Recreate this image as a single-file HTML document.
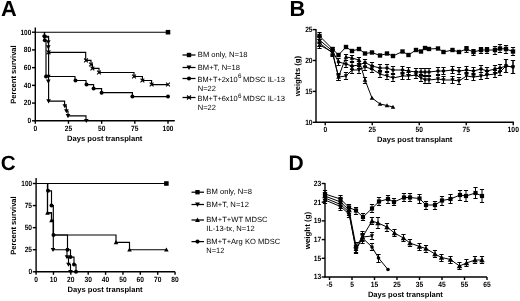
<!DOCTYPE html>
<html><head><meta charset="utf-8"><style>
html,body{margin:0;padding:0;background:#fff;}
svg{display:block;filter:grayscale(1);}
text{font-family:"Liberation Sans", sans-serif;text-rendering:geometricPrecision;}
</style></head><body>
<svg width="520" height="301" viewBox="0 0 520 301">
<rect width="520" height="301" fill="#fff"/>
<text x="1.00" y="15.90" font-size="21.8" font-weight="bold">A</text>
<text x="289.60" y="15.90" font-size="21.8" font-weight="bold">B</text>
<text x="0.70" y="170.30" font-size="20.6" font-weight="bold">C</text>
<text x="288.50" y="170.20" font-size="21.0" font-weight="bold">D</text>
<line x1="35.30" y1="27.50" x2="35.30" y2="121.30" stroke="#000" stroke-width="1.4"/>
<line x1="34.80" y1="120.80" x2="174.80" y2="120.80" stroke="#000" stroke-width="1.4"/>
<line x1="32.00" y1="120.80" x2="35.30" y2="120.80" stroke="#000" stroke-width="1.4"/>
<text x="31.30" y="123.20" font-size="7.6" font-weight="bold" text-anchor="end" textLength="3.72" lengthAdjust="spacingAndGlyphs">0</text>
<line x1="32.00" y1="103.08" x2="35.30" y2="103.08" stroke="#000" stroke-width="1.4"/>
<text x="31.30" y="105.48" font-size="7.6" font-weight="bold" text-anchor="end" textLength="7.44" lengthAdjust="spacingAndGlyphs">20</text>
<line x1="32.00" y1="85.36" x2="35.30" y2="85.36" stroke="#000" stroke-width="1.4"/>
<text x="31.30" y="87.76" font-size="7.6" font-weight="bold" text-anchor="end" textLength="7.44" lengthAdjust="spacingAndGlyphs">40</text>
<line x1="32.00" y1="67.64" x2="35.30" y2="67.64" stroke="#000" stroke-width="1.4"/>
<text x="31.30" y="70.04" font-size="7.6" font-weight="bold" text-anchor="end" textLength="7.44" lengthAdjust="spacingAndGlyphs">60</text>
<line x1="32.00" y1="49.92" x2="35.30" y2="49.92" stroke="#000" stroke-width="1.4"/>
<text x="31.30" y="52.32" font-size="7.6" font-weight="bold" text-anchor="end" textLength="7.44" lengthAdjust="spacingAndGlyphs">80</text>
<line x1="32.00" y1="32.20" x2="35.30" y2="32.20" stroke="#000" stroke-width="1.4"/>
<text x="31.30" y="34.60" font-size="7.6" font-weight="bold" text-anchor="end" textLength="10.78" lengthAdjust="spacingAndGlyphs">100</text>
<line x1="35.30" y1="120.80" x2="35.30" y2="123.80" stroke="#000" stroke-width="1.4"/>
<text x="35.30" y="130.80" font-size="7.6" font-weight="bold" text-anchor="middle" textLength="3.72" lengthAdjust="spacingAndGlyphs">0</text>
<line x1="68.47" y1="120.80" x2="68.47" y2="123.80" stroke="#000" stroke-width="1.4"/>
<text x="68.47" y="130.80" font-size="7.6" font-weight="bold" text-anchor="middle" textLength="7.44" lengthAdjust="spacingAndGlyphs">25</text>
<line x1="101.65" y1="120.80" x2="101.65" y2="123.80" stroke="#000" stroke-width="1.4"/>
<text x="101.65" y="130.80" font-size="7.6" font-weight="bold" text-anchor="middle" textLength="7.44" lengthAdjust="spacingAndGlyphs">50</text>
<line x1="134.82" y1="120.80" x2="134.82" y2="123.80" stroke="#000" stroke-width="1.4"/>
<text x="134.82" y="130.80" font-size="7.6" font-weight="bold" text-anchor="middle" textLength="7.44" lengthAdjust="spacingAndGlyphs">75</text>
<line x1="168.00" y1="120.80" x2="168.00" y2="123.80" stroke="#000" stroke-width="1.4"/>
<text x="168.00" y="130.80" font-size="7.6" font-weight="bold" text-anchor="middle" textLength="10.78" lengthAdjust="spacingAndGlyphs">100</text>
<text x="67.00" y="141.20" font-size="7.65" font-weight="bold" textLength="75.40" lengthAdjust="spacingAndGlyphs">Days post transplant</text>
<text x="16.40" y="103.80" font-size="7.65" font-weight="bold" textLength="58.50" lengthAdjust="spacingAndGlyphs" transform="rotate(-90 16.40 103.80)">Percent survival</text>
<polyline points="35.30,32.20 168.00,32.20" fill="none" stroke="#000" stroke-width="1.15" stroke-linejoin="miter"/>
<rect x="165.72" y="29.92" width="4.56" height="4.56" fill="#000"/>
<polyline points="44.50,32.20 44.50,36.23 48.50,36.23 48.50,52.34 85.70,52.34 85.70,60.39 91.00,60.39 91.00,64.45 92.40,64.45 92.40,68.44 99.00,68.44 99.00,72.51 134.00,72.51 134.00,76.50 142.40,76.50 142.40,80.53 151.60,80.53 151.60,84.56 168.00,84.56" fill="none" stroke="#000" stroke-width="1.15" stroke-linejoin="miter"/>
<path d="M46.60,50.44L50.40,54.24M50.40,50.44L46.60,54.24" stroke="#000" stroke-width="1.1"/>
<path d="M84.10,58.49L87.90,62.29M87.90,58.49L84.10,62.29" stroke="#000" stroke-width="1.1"/>
<path d="M89.10,62.55L92.90,66.35M92.90,62.55L89.10,66.35" stroke="#000" stroke-width="1.1"/>
<path d="M90.50,66.54L94.30,70.34M94.30,66.54L90.50,70.34" stroke="#000" stroke-width="1.1"/>
<path d="M97.10,70.61L100.90,74.41M100.90,70.61L97.10,74.41" stroke="#000" stroke-width="1.1"/>
<path d="M132.10,74.60L135.90,78.40M135.90,74.60L132.10,78.40" stroke="#000" stroke-width="1.1"/>
<path d="M140.50,78.63L144.30,82.43M144.30,78.63L140.50,82.43" stroke="#000" stroke-width="1.1"/>
<path d="M149.70,82.66L153.50,86.46M153.50,82.66L149.70,86.46" stroke="#000" stroke-width="1.1"/>
<path d="M166.10,82.66L169.90,86.46M169.90,82.66L166.10,86.46" stroke="#000" stroke-width="1.1"/>
<polyline points="44.50,32.20 44.50,40.26 46.00,40.26 46.00,76.50 75.00,76.50 75.00,80.53 86.00,80.53 86.00,84.56 93.60,84.56 93.60,88.55 101.60,88.55 101.60,92.63 132.40,92.63 132.40,96.61 168.00,96.61" fill="none" stroke="#000" stroke-width="1.15" stroke-linejoin="miter"/>
<circle cx="44.50" cy="36.23" r="2.00" fill="#000"/>
<circle cx="44.80" cy="40.26" r="2.00" fill="#000"/>
<circle cx="46.00" cy="76.50" r="2.00" fill="#000"/>
<circle cx="75.50" cy="80.53" r="2.00" fill="#000"/>
<circle cx="86.50" cy="84.56" r="2.00" fill="#000"/>
<circle cx="93.60" cy="88.55" r="2.00" fill="#000"/>
<circle cx="101.60" cy="92.63" r="2.00" fill="#000"/>
<circle cx="132.40" cy="96.61" r="2.00" fill="#000"/>
<circle cx="168.00" cy="96.61" r="2.00" fill="#000"/>
<polyline points="44.50,32.20 44.50,37.16 48.60,37.16 48.60,101.13 64.60,101.13 64.60,106.00 66.30,106.00 66.30,110.97 68.00,110.97 68.00,115.84 86.00,115.84 86.00,120.80" fill="none" stroke="#000" stroke-width="1.15" stroke-linejoin="miter"/>
<polygon points="42.20,35.32 46.80,35.32 44.50,39.46" fill="#000"/>
<polygon points="46.00,40.19 50.60,40.19 48.30,44.33" fill="#000"/>
<polygon points="46.00,45.16 50.60,45.16 48.30,49.30" fill="#000"/>
<polygon points="46.00,74.66 50.60,74.66 48.30,78.80" fill="#000"/>
<polygon points="46.00,79.62 50.60,79.62 48.30,83.76" fill="#000"/>
<polygon points="46.30,99.29 50.90,99.29 48.60,103.43" fill="#000"/>
<polygon points="62.50,104.16 67.10,104.16 64.80,108.30" fill="#000"/>
<polygon points="64.10,109.13 68.70,109.13 66.40,113.27" fill="#000"/>
<polygon points="65.70,114.00 70.30,114.00 68.00,118.14" fill="#000"/>
<polygon points="84.00,118.96 88.60,118.96 86.30,123.10" fill="#000"/>
<line x1="182.50" y1="55.00" x2="195.50" y2="55.00" stroke="#000" stroke-width="1.25"/>
<rect x="186.81" y="52.81" width="4.37" height="4.37" fill="#000"/>
<line x1="182.50" y1="67.50" x2="195.50" y2="67.50" stroke="#000" stroke-width="1.25"/>
<polygon points="186.59,65.57 191.41,65.57 189.00,69.92" fill="#000"/>
<line x1="182.50" y1="78.50" x2="195.50" y2="78.50" stroke="#000" stroke-width="1.25"/>
<circle cx="189.00" cy="78.50" r="2.10" fill="#000"/>
<line x1="182.50" y1="97.50" x2="195.50" y2="97.50" stroke="#000" stroke-width="1.25"/>
<path d="M187.00,95.50L191.00,99.50M191.00,95.50L187.00,99.50" stroke="#000" stroke-width="1.1"/>
<text x="197.80" y="57.40" font-size="7.5" textLength="49.60" lengthAdjust="spacingAndGlyphs">BM only, N=18</text>
<text x="197.80" y="69.90" font-size="7.5" textLength="42.20" lengthAdjust="spacingAndGlyphs">BM+T, N=18</text>
<text x="197.50" y="81.50" font-size="7.5" textLength="40.20" lengthAdjust="spacingAndGlyphs">BM+T+2x10</text>
<text x="238.00" y="78.40" font-size="6.3">6</text>
<text x="243.00" y="81.50" font-size="7.5" textLength="42.10" lengthAdjust="spacingAndGlyphs">MDSC IL-13</text>
<text x="197.80" y="90.50" font-size="7.5">N=22</text>
<text x="197.50" y="101.00" font-size="7.5" textLength="40.20" lengthAdjust="spacingAndGlyphs">BM+T+6x10</text>
<text x="238.00" y="97.90" font-size="6.3">6</text>
<text x="243.00" y="101.00" font-size="7.5" textLength="42.10" lengthAdjust="spacingAndGlyphs">MDSC IL-13</text>
<text x="197.80" y="109.50" font-size="7.5">N=22</text>
<line x1="316.00" y1="29.00" x2="316.00" y2="123.00" stroke="#000" stroke-width="1.4"/>
<line x1="315.50" y1="122.30" x2="513.90" y2="122.30" stroke="#000" stroke-width="1.4"/>
<line x1="312.70" y1="122.30" x2="316.00" y2="122.30" stroke="#000" stroke-width="1.4"/>
<text x="312.60" y="124.70" font-size="7.6" font-weight="bold" text-anchor="end" textLength="7.44" lengthAdjust="spacingAndGlyphs">10</text>
<line x1="312.70" y1="91.40" x2="316.00" y2="91.40" stroke="#000" stroke-width="1.4"/>
<text x="312.60" y="93.80" font-size="7.6" font-weight="bold" text-anchor="end" textLength="7.44" lengthAdjust="spacingAndGlyphs">15</text>
<line x1="312.70" y1="60.50" x2="316.00" y2="60.50" stroke="#000" stroke-width="1.4"/>
<text x="312.60" y="62.90" font-size="7.6" font-weight="bold" text-anchor="end" textLength="7.44" lengthAdjust="spacingAndGlyphs">20</text>
<line x1="312.70" y1="29.60" x2="316.00" y2="29.60" stroke="#000" stroke-width="1.4"/>
<text x="312.60" y="32.00" font-size="7.6" font-weight="bold" text-anchor="end" textLength="7.44" lengthAdjust="spacingAndGlyphs">25</text>
<line x1="325.25" y1="122.30" x2="325.25" y2="125.30" stroke="#000" stroke-width="1.4"/>
<text x="325.25" y="132.20" font-size="7.6" font-weight="bold" text-anchor="middle" textLength="3.72" lengthAdjust="spacingAndGlyphs">0</text>
<line x1="372.25" y1="122.30" x2="372.25" y2="125.30" stroke="#000" stroke-width="1.4"/>
<text x="372.25" y="132.20" font-size="7.6" font-weight="bold" text-anchor="middle" textLength="7.44" lengthAdjust="spacingAndGlyphs">25</text>
<line x1="419.25" y1="122.30" x2="419.25" y2="125.30" stroke="#000" stroke-width="1.4"/>
<text x="419.25" y="132.20" font-size="7.6" font-weight="bold" text-anchor="middle" textLength="7.44" lengthAdjust="spacingAndGlyphs">50</text>
<line x1="466.25" y1="122.30" x2="466.25" y2="125.30" stroke="#000" stroke-width="1.4"/>
<text x="466.25" y="132.20" font-size="7.6" font-weight="bold" text-anchor="middle" textLength="7.44" lengthAdjust="spacingAndGlyphs">75</text>
<line x1="513.25" y1="122.30" x2="513.25" y2="125.30" stroke="#000" stroke-width="1.4"/>
<text x="513.25" y="132.20" font-size="7.6" font-weight="bold" text-anchor="middle" textLength="11.40" lengthAdjust="spacingAndGlyphs">100</text>
<text x="377.00" y="142.40" font-size="7.65" font-weight="bold" textLength="75.40" lengthAdjust="spacingAndGlyphs">Days post transplant</text>
<text x="300.50" y="96.30" font-size="7.65" font-weight="bold" textLength="40.30" lengthAdjust="spacingAndGlyphs" transform="rotate(-90 300.50 96.30)">weights (g)</text>
<polyline points="319.50,36.00 332.50,49.00 338.50,55.00 346.00,47.00 352.00,51.00 359.00,49.00 365.00,53.50 372.00,52.50 380.00,55.50 387.00,53.50 393.00,56.00 402.50,51.50 408.50,55.00 416.00,50.00 421.00,51.50 425.00,48.00 429.00,49.00 438.00,48.50 443.50,52.00 452.50,50.00 459.00,52.00 466.50,49.00 473.50,52.00 481.00,50.00 487.00,50.00 495.00,50.00 500.00,48.50 506.00,49.00 513.00,51.50" fill="none" stroke="#000" stroke-width="1.0" stroke-linejoin="miter"/>
<line x1="319.50" y1="32.50" x2="319.50" y2="39.50" stroke="#000" stroke-width="1.0"/>
<line x1="317.40" y1="32.50" x2="321.60" y2="32.50" stroke="#000" stroke-width="1.0"/>
<line x1="317.40" y1="39.50" x2="321.60" y2="39.50" stroke="#000" stroke-width="1.0"/>
<rect x="317.31" y="33.81" width="4.37" height="4.37" fill="#000"/>
<rect x="330.31" y="46.81" width="4.37" height="4.37" fill="#000"/>
<rect x="336.31" y="52.81" width="4.37" height="4.37" fill="#000"/>
<rect x="343.81" y="44.81" width="4.37" height="4.37" fill="#000"/>
<rect x="349.81" y="48.81" width="4.37" height="4.37" fill="#000"/>
<rect x="356.81" y="46.81" width="4.37" height="4.37" fill="#000"/>
<rect x="362.81" y="51.31" width="4.37" height="4.37" fill="#000"/>
<rect x="369.81" y="50.31" width="4.37" height="4.37" fill="#000"/>
<rect x="377.81" y="53.31" width="4.37" height="4.37" fill="#000"/>
<rect x="384.81" y="51.31" width="4.37" height="4.37" fill="#000"/>
<rect x="390.81" y="53.81" width="4.37" height="4.37" fill="#000"/>
<rect x="400.31" y="49.31" width="4.37" height="4.37" fill="#000"/>
<rect x="406.31" y="52.81" width="4.37" height="4.37" fill="#000"/>
<rect x="413.81" y="47.81" width="4.37" height="4.37" fill="#000"/>
<rect x="418.81" y="49.31" width="4.37" height="4.37" fill="#000"/>
<rect x="422.81" y="45.81" width="4.37" height="4.37" fill="#000"/>
<rect x="426.81" y="46.81" width="4.37" height="4.37" fill="#000"/>
<rect x="435.81" y="46.31" width="4.37" height="4.37" fill="#000"/>
<rect x="441.31" y="49.81" width="4.37" height="4.37" fill="#000"/>
<rect x="450.31" y="47.81" width="4.37" height="4.37" fill="#000"/>
<rect x="456.81" y="49.81" width="4.37" height="4.37" fill="#000"/>
<line x1="466.50" y1="46.50" x2="466.50" y2="52.50" stroke="#000" stroke-width="1.0"/>
<line x1="464.40" y1="46.50" x2="468.60" y2="46.50" stroke="#000" stroke-width="1.0"/>
<line x1="464.40" y1="52.50" x2="468.60" y2="52.50" stroke="#000" stroke-width="1.0"/>
<rect x="464.31" y="46.81" width="4.37" height="4.37" fill="#000"/>
<line x1="473.50" y1="49.50" x2="473.50" y2="55.50" stroke="#000" stroke-width="1.0"/>
<line x1="471.40" y1="49.50" x2="475.60" y2="49.50" stroke="#000" stroke-width="1.0"/>
<line x1="471.40" y1="55.50" x2="475.60" y2="55.50" stroke="#000" stroke-width="1.0"/>
<rect x="471.31" y="49.81" width="4.37" height="4.37" fill="#000"/>
<line x1="481.00" y1="47.50" x2="481.00" y2="53.50" stroke="#000" stroke-width="1.0"/>
<line x1="478.90" y1="47.50" x2="483.10" y2="47.50" stroke="#000" stroke-width="1.0"/>
<line x1="478.90" y1="53.50" x2="483.10" y2="53.50" stroke="#000" stroke-width="1.0"/>
<rect x="478.81" y="47.81" width="4.37" height="4.37" fill="#000"/>
<line x1="487.00" y1="47.50" x2="487.00" y2="53.50" stroke="#000" stroke-width="1.0"/>
<line x1="484.90" y1="47.50" x2="489.10" y2="47.50" stroke="#000" stroke-width="1.0"/>
<line x1="484.90" y1="53.50" x2="489.10" y2="53.50" stroke="#000" stroke-width="1.0"/>
<rect x="484.81" y="47.81" width="4.37" height="4.37" fill="#000"/>
<line x1="495.00" y1="46.50" x2="495.00" y2="54.50" stroke="#000" stroke-width="1.0"/>
<line x1="492.90" y1="46.50" x2="497.10" y2="46.50" stroke="#000" stroke-width="1.0"/>
<line x1="492.90" y1="54.50" x2="497.10" y2="54.50" stroke="#000" stroke-width="1.0"/>
<rect x="492.81" y="47.81" width="4.37" height="4.37" fill="#000"/>
<line x1="500.00" y1="44.50" x2="500.00" y2="52.50" stroke="#000" stroke-width="1.0"/>
<line x1="497.90" y1="44.50" x2="502.10" y2="44.50" stroke="#000" stroke-width="1.0"/>
<line x1="497.90" y1="52.50" x2="502.10" y2="52.50" stroke="#000" stroke-width="1.0"/>
<rect x="497.81" y="46.31" width="4.37" height="4.37" fill="#000"/>
<line x1="506.00" y1="45.50" x2="506.00" y2="53.50" stroke="#000" stroke-width="1.0"/>
<line x1="503.90" y1="45.50" x2="508.10" y2="45.50" stroke="#000" stroke-width="1.0"/>
<line x1="503.90" y1="53.50" x2="508.10" y2="53.50" stroke="#000" stroke-width="1.0"/>
<rect x="503.81" y="46.81" width="4.37" height="4.37" fill="#000"/>
<line x1="513.00" y1="47.50" x2="513.00" y2="55.50" stroke="#000" stroke-width="1.0"/>
<line x1="510.90" y1="47.50" x2="515.10" y2="47.50" stroke="#000" stroke-width="1.0"/>
<line x1="510.90" y1="55.50" x2="515.10" y2="55.50" stroke="#000" stroke-width="1.0"/>
<rect x="510.81" y="49.31" width="4.37" height="4.37" fill="#000"/>
<polyline points="319.50,40.00 332.50,51.00 338.50,62.00 346.00,64.00 352.00,66.00 359.00,65.00 365.00,62.50 372.00,66.00 380.00,68.00 387.00,68.00 393.00,70.00 402.50,70.00 408.50,71.00 416.00,72.00 421.00,72.00 425.00,72.00 429.00,72.00 438.00,71.00 443.50,71.00 452.50,70.00 459.00,71.00 466.50,70.00 473.50,71.00 481.00,69.00 487.00,71.00 495.00,69.00 500.00,68.00 506.00,66.00 513.00,67.00" fill="none" stroke="#000" stroke-width="1.0" stroke-linejoin="miter"/>
<line x1="319.50" y1="36.50" x2="319.50" y2="43.50" stroke="#000" stroke-width="1.0"/>
<line x1="317.40" y1="36.50" x2="321.60" y2="36.50" stroke="#000" stroke-width="1.0"/>
<line x1="317.40" y1="43.50" x2="321.60" y2="43.50" stroke="#000" stroke-width="1.0"/>
<circle cx="319.50" cy="40.00" r="1.80" fill="#000"/>
<line x1="332.50" y1="47.50" x2="332.50" y2="54.50" stroke="#000" stroke-width="1.0"/>
<line x1="330.40" y1="47.50" x2="334.60" y2="47.50" stroke="#000" stroke-width="1.0"/>
<line x1="330.40" y1="54.50" x2="334.60" y2="54.50" stroke="#000" stroke-width="1.0"/>
<circle cx="332.50" cy="51.00" r="1.80" fill="#000"/>
<line x1="338.50" y1="58.50" x2="338.50" y2="65.50" stroke="#000" stroke-width="1.0"/>
<line x1="336.40" y1="58.50" x2="340.60" y2="58.50" stroke="#000" stroke-width="1.0"/>
<line x1="336.40" y1="65.50" x2="340.60" y2="65.50" stroke="#000" stroke-width="1.0"/>
<circle cx="338.50" cy="62.00" r="1.80" fill="#000"/>
<line x1="346.00" y1="60.50" x2="346.00" y2="67.50" stroke="#000" stroke-width="1.0"/>
<line x1="343.90" y1="60.50" x2="348.10" y2="60.50" stroke="#000" stroke-width="1.0"/>
<line x1="343.90" y1="67.50" x2="348.10" y2="67.50" stroke="#000" stroke-width="1.0"/>
<circle cx="346.00" cy="64.00" r="1.80" fill="#000"/>
<line x1="352.00" y1="62.50" x2="352.00" y2="69.50" stroke="#000" stroke-width="1.0"/>
<line x1="349.90" y1="62.50" x2="354.10" y2="62.50" stroke="#000" stroke-width="1.0"/>
<line x1="349.90" y1="69.50" x2="354.10" y2="69.50" stroke="#000" stroke-width="1.0"/>
<circle cx="352.00" cy="66.00" r="1.80" fill="#000"/>
<line x1="359.00" y1="61.50" x2="359.00" y2="68.50" stroke="#000" stroke-width="1.0"/>
<line x1="356.90" y1="61.50" x2="361.10" y2="61.50" stroke="#000" stroke-width="1.0"/>
<line x1="356.90" y1="68.50" x2="361.10" y2="68.50" stroke="#000" stroke-width="1.0"/>
<circle cx="359.00" cy="65.00" r="1.80" fill="#000"/>
<line x1="365.00" y1="59.50" x2="365.00" y2="66.50" stroke="#000" stroke-width="1.0"/>
<line x1="362.90" y1="59.50" x2="367.10" y2="59.50" stroke="#000" stroke-width="1.0"/>
<line x1="362.90" y1="66.50" x2="367.10" y2="66.50" stroke="#000" stroke-width="1.0"/>
<circle cx="365.00" cy="62.50" r="1.80" fill="#000"/>
<line x1="372.00" y1="62.50" x2="372.00" y2="69.50" stroke="#000" stroke-width="1.0"/>
<line x1="369.90" y1="62.50" x2="374.10" y2="62.50" stroke="#000" stroke-width="1.0"/>
<line x1="369.90" y1="69.50" x2="374.10" y2="69.50" stroke="#000" stroke-width="1.0"/>
<circle cx="372.00" cy="66.00" r="1.80" fill="#000"/>
<line x1="380.00" y1="64.50" x2="380.00" y2="71.50" stroke="#000" stroke-width="1.0"/>
<line x1="377.90" y1="64.50" x2="382.10" y2="64.50" stroke="#000" stroke-width="1.0"/>
<line x1="377.90" y1="71.50" x2="382.10" y2="71.50" stroke="#000" stroke-width="1.0"/>
<circle cx="380.00" cy="68.00" r="1.80" fill="#000"/>
<line x1="387.00" y1="64.50" x2="387.00" y2="71.50" stroke="#000" stroke-width="1.0"/>
<line x1="384.90" y1="64.50" x2="389.10" y2="64.50" stroke="#000" stroke-width="1.0"/>
<line x1="384.90" y1="71.50" x2="389.10" y2="71.50" stroke="#000" stroke-width="1.0"/>
<circle cx="387.00" cy="68.00" r="1.80" fill="#000"/>
<line x1="393.00" y1="66.50" x2="393.00" y2="73.50" stroke="#000" stroke-width="1.0"/>
<line x1="390.90" y1="66.50" x2="395.10" y2="66.50" stroke="#000" stroke-width="1.0"/>
<line x1="390.90" y1="73.50" x2="395.10" y2="73.50" stroke="#000" stroke-width="1.0"/>
<circle cx="393.00" cy="70.00" r="1.80" fill="#000"/>
<line x1="402.50" y1="66.50" x2="402.50" y2="73.50" stroke="#000" stroke-width="1.0"/>
<line x1="400.40" y1="66.50" x2="404.60" y2="66.50" stroke="#000" stroke-width="1.0"/>
<line x1="400.40" y1="73.50" x2="404.60" y2="73.50" stroke="#000" stroke-width="1.0"/>
<circle cx="402.50" cy="70.00" r="1.80" fill="#000"/>
<line x1="408.50" y1="67.50" x2="408.50" y2="74.50" stroke="#000" stroke-width="1.0"/>
<line x1="406.40" y1="67.50" x2="410.60" y2="67.50" stroke="#000" stroke-width="1.0"/>
<line x1="406.40" y1="74.50" x2="410.60" y2="74.50" stroke="#000" stroke-width="1.0"/>
<circle cx="408.50" cy="71.00" r="1.80" fill="#000"/>
<line x1="416.00" y1="68.50" x2="416.00" y2="75.50" stroke="#000" stroke-width="1.0"/>
<line x1="413.90" y1="68.50" x2="418.10" y2="68.50" stroke="#000" stroke-width="1.0"/>
<line x1="413.90" y1="75.50" x2="418.10" y2="75.50" stroke="#000" stroke-width="1.0"/>
<circle cx="416.00" cy="72.00" r="1.80" fill="#000"/>
<line x1="421.00" y1="68.50" x2="421.00" y2="75.50" stroke="#000" stroke-width="1.0"/>
<line x1="418.90" y1="68.50" x2="423.10" y2="68.50" stroke="#000" stroke-width="1.0"/>
<line x1="418.90" y1="75.50" x2="423.10" y2="75.50" stroke="#000" stroke-width="1.0"/>
<circle cx="421.00" cy="72.00" r="1.80" fill="#000"/>
<line x1="425.00" y1="68.50" x2="425.00" y2="75.50" stroke="#000" stroke-width="1.0"/>
<line x1="422.90" y1="68.50" x2="427.10" y2="68.50" stroke="#000" stroke-width="1.0"/>
<line x1="422.90" y1="75.50" x2="427.10" y2="75.50" stroke="#000" stroke-width="1.0"/>
<circle cx="425.00" cy="72.00" r="1.80" fill="#000"/>
<line x1="429.00" y1="68.50" x2="429.00" y2="75.50" stroke="#000" stroke-width="1.0"/>
<line x1="426.90" y1="68.50" x2="431.10" y2="68.50" stroke="#000" stroke-width="1.0"/>
<line x1="426.90" y1="75.50" x2="431.10" y2="75.50" stroke="#000" stroke-width="1.0"/>
<circle cx="429.00" cy="72.00" r="1.80" fill="#000"/>
<line x1="438.00" y1="67.50" x2="438.00" y2="74.50" stroke="#000" stroke-width="1.0"/>
<line x1="435.90" y1="67.50" x2="440.10" y2="67.50" stroke="#000" stroke-width="1.0"/>
<line x1="435.90" y1="74.50" x2="440.10" y2="74.50" stroke="#000" stroke-width="1.0"/>
<circle cx="438.00" cy="71.00" r="1.80" fill="#000"/>
<line x1="443.50" y1="67.50" x2="443.50" y2="74.50" stroke="#000" stroke-width="1.0"/>
<line x1="441.40" y1="67.50" x2="445.60" y2="67.50" stroke="#000" stroke-width="1.0"/>
<line x1="441.40" y1="74.50" x2="445.60" y2="74.50" stroke="#000" stroke-width="1.0"/>
<circle cx="443.50" cy="71.00" r="1.80" fill="#000"/>
<line x1="452.50" y1="66.50" x2="452.50" y2="73.50" stroke="#000" stroke-width="1.0"/>
<line x1="450.40" y1="66.50" x2="454.60" y2="66.50" stroke="#000" stroke-width="1.0"/>
<line x1="450.40" y1="73.50" x2="454.60" y2="73.50" stroke="#000" stroke-width="1.0"/>
<circle cx="452.50" cy="70.00" r="1.80" fill="#000"/>
<line x1="459.00" y1="67.50" x2="459.00" y2="74.50" stroke="#000" stroke-width="1.0"/>
<line x1="456.90" y1="67.50" x2="461.10" y2="67.50" stroke="#000" stroke-width="1.0"/>
<line x1="456.90" y1="74.50" x2="461.10" y2="74.50" stroke="#000" stroke-width="1.0"/>
<circle cx="459.00" cy="71.00" r="1.80" fill="#000"/>
<line x1="466.50" y1="66.50" x2="466.50" y2="73.50" stroke="#000" stroke-width="1.0"/>
<line x1="464.40" y1="66.50" x2="468.60" y2="66.50" stroke="#000" stroke-width="1.0"/>
<line x1="464.40" y1="73.50" x2="468.60" y2="73.50" stroke="#000" stroke-width="1.0"/>
<circle cx="466.50" cy="70.00" r="1.80" fill="#000"/>
<line x1="473.50" y1="67.50" x2="473.50" y2="74.50" stroke="#000" stroke-width="1.0"/>
<line x1="471.40" y1="67.50" x2="475.60" y2="67.50" stroke="#000" stroke-width="1.0"/>
<line x1="471.40" y1="74.50" x2="475.60" y2="74.50" stroke="#000" stroke-width="1.0"/>
<circle cx="473.50" cy="71.00" r="1.80" fill="#000"/>
<line x1="481.00" y1="65.50" x2="481.00" y2="72.50" stroke="#000" stroke-width="1.0"/>
<line x1="478.90" y1="65.50" x2="483.10" y2="65.50" stroke="#000" stroke-width="1.0"/>
<line x1="478.90" y1="72.50" x2="483.10" y2="72.50" stroke="#000" stroke-width="1.0"/>
<circle cx="481.00" cy="69.00" r="1.80" fill="#000"/>
<line x1="487.00" y1="67.50" x2="487.00" y2="74.50" stroke="#000" stroke-width="1.0"/>
<line x1="484.90" y1="67.50" x2="489.10" y2="67.50" stroke="#000" stroke-width="1.0"/>
<line x1="484.90" y1="74.50" x2="489.10" y2="74.50" stroke="#000" stroke-width="1.0"/>
<circle cx="487.00" cy="71.00" r="1.80" fill="#000"/>
<line x1="495.00" y1="65.50" x2="495.00" y2="72.50" stroke="#000" stroke-width="1.0"/>
<line x1="492.90" y1="65.50" x2="497.10" y2="65.50" stroke="#000" stroke-width="1.0"/>
<line x1="492.90" y1="72.50" x2="497.10" y2="72.50" stroke="#000" stroke-width="1.0"/>
<circle cx="495.00" cy="69.00" r="1.80" fill="#000"/>
<line x1="500.00" y1="64.50" x2="500.00" y2="71.50" stroke="#000" stroke-width="1.0"/>
<line x1="497.90" y1="64.50" x2="502.10" y2="64.50" stroke="#000" stroke-width="1.0"/>
<line x1="497.90" y1="71.50" x2="502.10" y2="71.50" stroke="#000" stroke-width="1.0"/>
<circle cx="500.00" cy="68.00" r="1.80" fill="#000"/>
<line x1="506.00" y1="59.50" x2="506.00" y2="72.50" stroke="#000" stroke-width="1.0"/>
<line x1="503.90" y1="59.50" x2="508.10" y2="59.50" stroke="#000" stroke-width="1.0"/>
<line x1="503.90" y1="72.50" x2="508.10" y2="72.50" stroke="#000" stroke-width="1.0"/>
<circle cx="506.00" cy="66.00" r="1.80" fill="#000"/>
<line x1="513.00" y1="60.50" x2="513.00" y2="73.50" stroke="#000" stroke-width="1.0"/>
<line x1="510.90" y1="60.50" x2="515.10" y2="60.50" stroke="#000" stroke-width="1.0"/>
<line x1="510.90" y1="73.50" x2="515.10" y2="73.50" stroke="#000" stroke-width="1.0"/>
<circle cx="513.00" cy="67.00" r="1.80" fill="#000"/>
<polyline points="319.50,43.00 332.50,53.00 338.50,77.00 346.00,76.00 352.00,70.00 359.00,70.00 365.00,67.00 372.00,69.00 380.00,74.00 387.00,76.00 393.00,78.00 402.50,76.00 408.50,76.00 416.00,75.00 421.00,78.00 425.00,80.00 429.00,80.00 438.00,79.00 443.50,80.00 452.50,80.00 459.00,81.00 466.50,76.00 473.50,77.00 481.00,76.00 487.00,75.00 495.00,74.00 500.00,72.00 506.00,66.00 513.00,67.00" fill="none" stroke="#000" stroke-width="1.0" stroke-linejoin="miter"/>
<line x1="319.50" y1="39.50" x2="319.50" y2="46.50" stroke="#000" stroke-width="1.0"/>
<line x1="317.40" y1="39.50" x2="321.60" y2="39.50" stroke="#000" stroke-width="1.0"/>
<line x1="317.40" y1="46.50" x2="321.60" y2="46.50" stroke="#000" stroke-width="1.0"/>
<polygon points="317.43,41.34 321.57,41.34 319.50,45.07" fill="#000"/>
<line x1="332.50" y1="49.50" x2="332.50" y2="56.50" stroke="#000" stroke-width="1.0"/>
<line x1="330.40" y1="49.50" x2="334.60" y2="49.50" stroke="#000" stroke-width="1.0"/>
<line x1="330.40" y1="56.50" x2="334.60" y2="56.50" stroke="#000" stroke-width="1.0"/>
<polygon points="330.43,51.34 334.57,51.34 332.50,55.07" fill="#000"/>
<line x1="338.50" y1="73.50" x2="338.50" y2="80.50" stroke="#000" stroke-width="1.0"/>
<line x1="336.40" y1="73.50" x2="340.60" y2="73.50" stroke="#000" stroke-width="1.0"/>
<line x1="336.40" y1="80.50" x2="340.60" y2="80.50" stroke="#000" stroke-width="1.0"/>
<polygon points="336.43,75.34 340.57,75.34 338.50,79.07" fill="#000"/>
<line x1="346.00" y1="72.50" x2="346.00" y2="79.50" stroke="#000" stroke-width="1.0"/>
<line x1="343.90" y1="72.50" x2="348.10" y2="72.50" stroke="#000" stroke-width="1.0"/>
<line x1="343.90" y1="79.50" x2="348.10" y2="79.50" stroke="#000" stroke-width="1.0"/>
<polygon points="343.93,74.34 348.07,74.34 346.00,78.07" fill="#000"/>
<line x1="352.00" y1="66.50" x2="352.00" y2="73.50" stroke="#000" stroke-width="1.0"/>
<line x1="349.90" y1="66.50" x2="354.10" y2="66.50" stroke="#000" stroke-width="1.0"/>
<line x1="349.90" y1="73.50" x2="354.10" y2="73.50" stroke="#000" stroke-width="1.0"/>
<polygon points="349.93,68.34 354.07,68.34 352.00,72.07" fill="#000"/>
<line x1="359.00" y1="66.50" x2="359.00" y2="73.50" stroke="#000" stroke-width="1.0"/>
<line x1="356.90" y1="66.50" x2="361.10" y2="66.50" stroke="#000" stroke-width="1.0"/>
<line x1="356.90" y1="73.50" x2="361.10" y2="73.50" stroke="#000" stroke-width="1.0"/>
<polygon points="356.93,68.34 361.07,68.34 359.00,72.07" fill="#000"/>
<line x1="365.00" y1="63.50" x2="365.00" y2="70.50" stroke="#000" stroke-width="1.0"/>
<line x1="362.90" y1="63.50" x2="367.10" y2="63.50" stroke="#000" stroke-width="1.0"/>
<line x1="362.90" y1="70.50" x2="367.10" y2="70.50" stroke="#000" stroke-width="1.0"/>
<polygon points="362.93,65.34 367.07,65.34 365.00,69.07" fill="#000"/>
<line x1="372.00" y1="65.50" x2="372.00" y2="72.50" stroke="#000" stroke-width="1.0"/>
<line x1="369.90" y1="65.50" x2="374.10" y2="65.50" stroke="#000" stroke-width="1.0"/>
<line x1="369.90" y1="72.50" x2="374.10" y2="72.50" stroke="#000" stroke-width="1.0"/>
<polygon points="369.93,67.34 374.07,67.34 372.00,71.07" fill="#000"/>
<line x1="380.00" y1="70.50" x2="380.00" y2="77.50" stroke="#000" stroke-width="1.0"/>
<line x1="377.90" y1="70.50" x2="382.10" y2="70.50" stroke="#000" stroke-width="1.0"/>
<line x1="377.90" y1="77.50" x2="382.10" y2="77.50" stroke="#000" stroke-width="1.0"/>
<polygon points="377.93,72.34 382.07,72.34 380.00,76.07" fill="#000"/>
<line x1="387.00" y1="72.50" x2="387.00" y2="79.50" stroke="#000" stroke-width="1.0"/>
<line x1="384.90" y1="72.50" x2="389.10" y2="72.50" stroke="#000" stroke-width="1.0"/>
<line x1="384.90" y1="79.50" x2="389.10" y2="79.50" stroke="#000" stroke-width="1.0"/>
<polygon points="384.93,74.34 389.07,74.34 387.00,78.07" fill="#000"/>
<line x1="393.00" y1="74.50" x2="393.00" y2="81.50" stroke="#000" stroke-width="1.0"/>
<line x1="390.90" y1="74.50" x2="395.10" y2="74.50" stroke="#000" stroke-width="1.0"/>
<line x1="390.90" y1="81.50" x2="395.10" y2="81.50" stroke="#000" stroke-width="1.0"/>
<polygon points="390.93,76.34 395.07,76.34 393.00,80.07" fill="#000"/>
<line x1="402.50" y1="72.50" x2="402.50" y2="79.50" stroke="#000" stroke-width="1.0"/>
<line x1="400.40" y1="72.50" x2="404.60" y2="72.50" stroke="#000" stroke-width="1.0"/>
<line x1="400.40" y1="79.50" x2="404.60" y2="79.50" stroke="#000" stroke-width="1.0"/>
<polygon points="400.43,74.34 404.57,74.34 402.50,78.07" fill="#000"/>
<line x1="408.50" y1="72.50" x2="408.50" y2="79.50" stroke="#000" stroke-width="1.0"/>
<line x1="406.40" y1="72.50" x2="410.60" y2="72.50" stroke="#000" stroke-width="1.0"/>
<line x1="406.40" y1="79.50" x2="410.60" y2="79.50" stroke="#000" stroke-width="1.0"/>
<polygon points="406.43,74.34 410.57,74.34 408.50,78.07" fill="#000"/>
<line x1="416.00" y1="71.50" x2="416.00" y2="78.50" stroke="#000" stroke-width="1.0"/>
<line x1="413.90" y1="71.50" x2="418.10" y2="71.50" stroke="#000" stroke-width="1.0"/>
<line x1="413.90" y1="78.50" x2="418.10" y2="78.50" stroke="#000" stroke-width="1.0"/>
<polygon points="413.93,73.34 418.07,73.34 416.00,77.07" fill="#000"/>
<line x1="421.00" y1="74.50" x2="421.00" y2="81.50" stroke="#000" stroke-width="1.0"/>
<line x1="418.90" y1="74.50" x2="423.10" y2="74.50" stroke="#000" stroke-width="1.0"/>
<line x1="418.90" y1="81.50" x2="423.10" y2="81.50" stroke="#000" stroke-width="1.0"/>
<polygon points="418.93,76.34 423.07,76.34 421.00,80.07" fill="#000"/>
<line x1="425.00" y1="76.50" x2="425.00" y2="83.50" stroke="#000" stroke-width="1.0"/>
<line x1="422.90" y1="76.50" x2="427.10" y2="76.50" stroke="#000" stroke-width="1.0"/>
<line x1="422.90" y1="83.50" x2="427.10" y2="83.50" stroke="#000" stroke-width="1.0"/>
<polygon points="422.93,78.34 427.07,78.34 425.00,82.07" fill="#000"/>
<line x1="429.00" y1="76.50" x2="429.00" y2="83.50" stroke="#000" stroke-width="1.0"/>
<line x1="426.90" y1="76.50" x2="431.10" y2="76.50" stroke="#000" stroke-width="1.0"/>
<line x1="426.90" y1="83.50" x2="431.10" y2="83.50" stroke="#000" stroke-width="1.0"/>
<polygon points="426.93,78.34 431.07,78.34 429.00,82.07" fill="#000"/>
<line x1="438.00" y1="75.50" x2="438.00" y2="82.50" stroke="#000" stroke-width="1.0"/>
<line x1="435.90" y1="75.50" x2="440.10" y2="75.50" stroke="#000" stroke-width="1.0"/>
<line x1="435.90" y1="82.50" x2="440.10" y2="82.50" stroke="#000" stroke-width="1.0"/>
<polygon points="435.93,77.34 440.07,77.34 438.00,81.07" fill="#000"/>
<line x1="443.50" y1="76.50" x2="443.50" y2="83.50" stroke="#000" stroke-width="1.0"/>
<line x1="441.40" y1="76.50" x2="445.60" y2="76.50" stroke="#000" stroke-width="1.0"/>
<line x1="441.40" y1="83.50" x2="445.60" y2="83.50" stroke="#000" stroke-width="1.0"/>
<polygon points="441.43,78.34 445.57,78.34 443.50,82.07" fill="#000"/>
<line x1="452.50" y1="76.50" x2="452.50" y2="83.50" stroke="#000" stroke-width="1.0"/>
<line x1="450.40" y1="76.50" x2="454.60" y2="76.50" stroke="#000" stroke-width="1.0"/>
<line x1="450.40" y1="83.50" x2="454.60" y2="83.50" stroke="#000" stroke-width="1.0"/>
<polygon points="450.43,78.34 454.57,78.34 452.50,82.07" fill="#000"/>
<line x1="459.00" y1="77.50" x2="459.00" y2="84.50" stroke="#000" stroke-width="1.0"/>
<line x1="456.90" y1="77.50" x2="461.10" y2="77.50" stroke="#000" stroke-width="1.0"/>
<line x1="456.90" y1="84.50" x2="461.10" y2="84.50" stroke="#000" stroke-width="1.0"/>
<polygon points="456.93,79.34 461.07,79.34 459.00,83.07" fill="#000"/>
<line x1="466.50" y1="72.50" x2="466.50" y2="79.50" stroke="#000" stroke-width="1.0"/>
<line x1="464.40" y1="72.50" x2="468.60" y2="72.50" stroke="#000" stroke-width="1.0"/>
<line x1="464.40" y1="79.50" x2="468.60" y2="79.50" stroke="#000" stroke-width="1.0"/>
<polygon points="464.43,74.34 468.57,74.34 466.50,78.07" fill="#000"/>
<line x1="473.50" y1="73.50" x2="473.50" y2="80.50" stroke="#000" stroke-width="1.0"/>
<line x1="471.40" y1="73.50" x2="475.60" y2="73.50" stroke="#000" stroke-width="1.0"/>
<line x1="471.40" y1="80.50" x2="475.60" y2="80.50" stroke="#000" stroke-width="1.0"/>
<polygon points="471.43,75.34 475.57,75.34 473.50,79.07" fill="#000"/>
<line x1="481.00" y1="72.50" x2="481.00" y2="79.50" stroke="#000" stroke-width="1.0"/>
<line x1="478.90" y1="72.50" x2="483.10" y2="72.50" stroke="#000" stroke-width="1.0"/>
<line x1="478.90" y1="79.50" x2="483.10" y2="79.50" stroke="#000" stroke-width="1.0"/>
<polygon points="478.93,74.34 483.07,74.34 481.00,78.07" fill="#000"/>
<line x1="487.00" y1="71.50" x2="487.00" y2="78.50" stroke="#000" stroke-width="1.0"/>
<line x1="484.90" y1="71.50" x2="489.10" y2="71.50" stroke="#000" stroke-width="1.0"/>
<line x1="484.90" y1="78.50" x2="489.10" y2="78.50" stroke="#000" stroke-width="1.0"/>
<polygon points="484.93,73.34 489.07,73.34 487.00,77.07" fill="#000"/>
<line x1="495.00" y1="70.50" x2="495.00" y2="77.50" stroke="#000" stroke-width="1.0"/>
<line x1="492.90" y1="70.50" x2="497.10" y2="70.50" stroke="#000" stroke-width="1.0"/>
<line x1="492.90" y1="77.50" x2="497.10" y2="77.50" stroke="#000" stroke-width="1.0"/>
<polygon points="492.93,72.34 497.07,72.34 495.00,76.07" fill="#000"/>
<line x1="500.00" y1="68.50" x2="500.00" y2="75.50" stroke="#000" stroke-width="1.0"/>
<line x1="497.90" y1="68.50" x2="502.10" y2="68.50" stroke="#000" stroke-width="1.0"/>
<line x1="497.90" y1="75.50" x2="502.10" y2="75.50" stroke="#000" stroke-width="1.0"/>
<polygon points="497.93,70.34 502.07,70.34 500.00,74.07" fill="#000"/>
<line x1="506.00" y1="59.50" x2="506.00" y2="72.50" stroke="#000" stroke-width="1.0"/>
<line x1="503.90" y1="59.50" x2="508.10" y2="59.50" stroke="#000" stroke-width="1.0"/>
<line x1="503.90" y1="72.50" x2="508.10" y2="72.50" stroke="#000" stroke-width="1.0"/>
<polygon points="503.93,64.34 508.07,64.34 506.00,68.07" fill="#000"/>
<line x1="513.00" y1="60.50" x2="513.00" y2="73.50" stroke="#000" stroke-width="1.0"/>
<line x1="510.90" y1="60.50" x2="515.10" y2="60.50" stroke="#000" stroke-width="1.0"/>
<line x1="510.90" y1="73.50" x2="515.10" y2="73.50" stroke="#000" stroke-width="1.0"/>
<polygon points="510.93,65.34 515.07,65.34 513.00,69.07" fill="#000"/>
<polyline points="319.50,45.00 332.50,52.00 338.50,77.00 346.00,57.00 352.00,58.00 359.00,60.00 365.00,80.00 372.00,98.00 380.00,104.00 387.00,105.50 393.00,107.00" fill="none" stroke="#000" stroke-width="1.0" stroke-linejoin="miter"/>
<line x1="319.50" y1="42.50" x2="319.50" y2="48.50" stroke="#000" stroke-width="1.0"/>
<line x1="317.40" y1="42.50" x2="321.60" y2="42.50" stroke="#000" stroke-width="1.0"/>
<line x1="317.40" y1="48.50" x2="321.60" y2="48.50" stroke="#000" stroke-width="1.0"/>
<polygon points="317.20,46.84 321.80,46.84 319.50,42.70" fill="#000"/>
<line x1="332.50" y1="49.50" x2="332.50" y2="55.50" stroke="#000" stroke-width="1.0"/>
<line x1="330.40" y1="49.50" x2="334.60" y2="49.50" stroke="#000" stroke-width="1.0"/>
<line x1="330.40" y1="55.50" x2="334.60" y2="55.50" stroke="#000" stroke-width="1.0"/>
<polygon points="330.20,53.84 334.80,53.84 332.50,49.70" fill="#000"/>
<line x1="338.50" y1="74.50" x2="338.50" y2="80.50" stroke="#000" stroke-width="1.0"/>
<line x1="336.40" y1="74.50" x2="340.60" y2="74.50" stroke="#000" stroke-width="1.0"/>
<line x1="336.40" y1="80.50" x2="340.60" y2="80.50" stroke="#000" stroke-width="1.0"/>
<polygon points="336.20,78.84 340.80,78.84 338.50,74.70" fill="#000"/>
<line x1="346.00" y1="54.50" x2="346.00" y2="60.50" stroke="#000" stroke-width="1.0"/>
<line x1="343.90" y1="54.50" x2="348.10" y2="54.50" stroke="#000" stroke-width="1.0"/>
<line x1="343.90" y1="60.50" x2="348.10" y2="60.50" stroke="#000" stroke-width="1.0"/>
<polygon points="343.70,58.84 348.30,58.84 346.00,54.70" fill="#000"/>
<line x1="352.00" y1="55.50" x2="352.00" y2="61.50" stroke="#000" stroke-width="1.0"/>
<line x1="349.90" y1="55.50" x2="354.10" y2="55.50" stroke="#000" stroke-width="1.0"/>
<line x1="349.90" y1="61.50" x2="354.10" y2="61.50" stroke="#000" stroke-width="1.0"/>
<polygon points="349.70,59.84 354.30,59.84 352.00,55.70" fill="#000"/>
<line x1="359.00" y1="57.50" x2="359.00" y2="63.50" stroke="#000" stroke-width="1.0"/>
<line x1="356.90" y1="57.50" x2="361.10" y2="57.50" stroke="#000" stroke-width="1.0"/>
<line x1="356.90" y1="63.50" x2="361.10" y2="63.50" stroke="#000" stroke-width="1.0"/>
<polygon points="356.70,61.84 361.30,61.84 359.00,57.70" fill="#000"/>
<line x1="365.00" y1="77.50" x2="365.00" y2="83.50" stroke="#000" stroke-width="1.0"/>
<line x1="362.90" y1="77.50" x2="367.10" y2="77.50" stroke="#000" stroke-width="1.0"/>
<line x1="362.90" y1="83.50" x2="367.10" y2="83.50" stroke="#000" stroke-width="1.0"/>
<polygon points="362.70,81.84 367.30,81.84 365.00,77.70" fill="#000"/>
<polygon points="369.70,99.84 374.30,99.84 372.00,95.70" fill="#000"/>
<polygon points="377.70,105.84 382.30,105.84 380.00,101.70" fill="#000"/>
<polygon points="384.70,107.34 389.30,107.34 387.00,103.20" fill="#000"/>
<polygon points="390.70,108.84 395.30,108.84 393.00,104.70" fill="#000"/>
<line x1="36.10" y1="178.00" x2="36.10" y2="272.30" stroke="#000" stroke-width="1.4"/>
<line x1="35.60" y1="271.80" x2="175.06" y2="271.80" stroke="#000" stroke-width="1.4"/>
<line x1="32.80" y1="271.80" x2="36.10" y2="271.80" stroke="#000" stroke-width="1.4"/>
<text x="32.10" y="274.20" font-size="7.6" font-weight="bold" text-anchor="end" textLength="3.72" lengthAdjust="spacingAndGlyphs">0</text>
<line x1="32.80" y1="249.73" x2="36.10" y2="249.73" stroke="#000" stroke-width="1.4"/>
<text x="32.10" y="252.13" font-size="7.6" font-weight="bold" text-anchor="end" textLength="7.44" lengthAdjust="spacingAndGlyphs">25</text>
<line x1="32.80" y1="227.65" x2="36.10" y2="227.65" stroke="#000" stroke-width="1.4"/>
<text x="32.10" y="230.05" font-size="7.6" font-weight="bold" text-anchor="end" textLength="7.44" lengthAdjust="spacingAndGlyphs">50</text>
<line x1="32.80" y1="205.57" x2="36.10" y2="205.57" stroke="#000" stroke-width="1.4"/>
<text x="32.10" y="207.97" font-size="7.6" font-weight="bold" text-anchor="end" textLength="7.44" lengthAdjust="spacingAndGlyphs">75</text>
<line x1="32.80" y1="183.50" x2="36.10" y2="183.50" stroke="#000" stroke-width="1.4"/>
<text x="32.10" y="185.90" font-size="7.6" font-weight="bold" text-anchor="end" textLength="10.78" lengthAdjust="spacingAndGlyphs">100</text>
<line x1="36.10" y1="271.80" x2="36.10" y2="274.80" stroke="#000" stroke-width="1.4"/>
<text x="36.10" y="281.90" font-size="7.6" font-weight="bold" text-anchor="middle" textLength="3.72" lengthAdjust="spacingAndGlyphs">0</text>
<line x1="53.47" y1="271.80" x2="53.47" y2="274.80" stroke="#000" stroke-width="1.4"/>
<text x="53.47" y="281.90" font-size="7.6" font-weight="bold" text-anchor="middle" textLength="7.44" lengthAdjust="spacingAndGlyphs">10</text>
<line x1="70.84" y1="271.80" x2="70.84" y2="274.80" stroke="#000" stroke-width="1.4"/>
<text x="70.84" y="281.90" font-size="7.6" font-weight="bold" text-anchor="middle" textLength="7.44" lengthAdjust="spacingAndGlyphs">20</text>
<line x1="88.21" y1="271.80" x2="88.21" y2="274.80" stroke="#000" stroke-width="1.4"/>
<text x="88.21" y="281.90" font-size="7.6" font-weight="bold" text-anchor="middle" textLength="7.44" lengthAdjust="spacingAndGlyphs">30</text>
<line x1="105.58" y1="271.80" x2="105.58" y2="274.80" stroke="#000" stroke-width="1.4"/>
<text x="105.58" y="281.90" font-size="7.6" font-weight="bold" text-anchor="middle" textLength="7.44" lengthAdjust="spacingAndGlyphs">40</text>
<line x1="122.95" y1="271.80" x2="122.95" y2="274.80" stroke="#000" stroke-width="1.4"/>
<text x="122.95" y="281.90" font-size="7.6" font-weight="bold" text-anchor="middle" textLength="7.44" lengthAdjust="spacingAndGlyphs">50</text>
<line x1="140.32" y1="271.80" x2="140.32" y2="274.80" stroke="#000" stroke-width="1.4"/>
<text x="140.32" y="281.90" font-size="7.6" font-weight="bold" text-anchor="middle" textLength="7.44" lengthAdjust="spacingAndGlyphs">60</text>
<line x1="157.69" y1="271.80" x2="157.69" y2="274.80" stroke="#000" stroke-width="1.4"/>
<text x="157.69" y="281.90" font-size="7.6" font-weight="bold" text-anchor="middle" textLength="7.44" lengthAdjust="spacingAndGlyphs">70</text>
<line x1="175.06" y1="271.80" x2="175.06" y2="274.80" stroke="#000" stroke-width="1.4"/>
<text x="175.06" y="281.90" font-size="7.6" font-weight="bold" text-anchor="middle" textLength="7.44" lengthAdjust="spacingAndGlyphs">80</text>
<text x="67.60" y="292.40" font-size="7.65" font-weight="bold" textLength="75.00" lengthAdjust="spacingAndGlyphs">Days post transplant</text>
<text x="16.40" y="254.80" font-size="7.65" font-weight="bold" textLength="58.50" lengthAdjust="spacingAndGlyphs" transform="rotate(-90 16.40 254.80)">Percent survival</text>
<polyline points="36.10,183.50 166.38,183.50" fill="none" stroke="#000" stroke-width="1.15" stroke-linejoin="miter"/>
<rect x="164.09" y="181.22" width="4.56" height="4.56" fill="#000"/>
<polyline points="47.50,183.50 47.50,212.90 51.50,212.90 51.50,220.32 53.50,220.32 53.50,234.98 116.00,234.98 116.00,242.40 129.50,242.40 129.50,249.73 166.38,249.73" fill="none" stroke="#000" stroke-width="1.15" stroke-linejoin="miter"/>
<polygon points="45.20,214.74 49.80,214.74 47.50,210.60" fill="#000"/>
<polygon points="49.20,222.16 53.80,222.16 51.50,218.02" fill="#000"/>
<polygon points="113.70,244.24 118.30,244.24 116.00,240.10" fill="#000"/>
<polygon points="127.20,251.57 131.80,251.57 129.50,247.43" fill="#000"/>
<polygon points="164.07,251.57 168.68,251.57 166.38,247.43" fill="#000"/>
<polyline points="47.70,183.50 47.70,190.83 51.50,190.83 51.50,205.57 53.30,205.57 53.30,234.98 67.50,234.98 67.50,249.73 70.50,249.73 70.50,257.05 74.00,257.05 74.00,264.47 76.00,264.47 76.00,271.80" fill="none" stroke="#000" stroke-width="1.15" stroke-linejoin="miter"/>
<circle cx="48.00" cy="190.83" r="2.00" fill="#000"/>
<circle cx="51.50" cy="205.57" r="2.00" fill="#000"/>
<circle cx="53.50" cy="234.98" r="2.00" fill="#000"/>
<circle cx="67.50" cy="249.73" r="2.00" fill="#000"/>
<circle cx="70.50" cy="257.05" r="2.00" fill="#000"/>
<circle cx="74.00" cy="264.47" r="2.00" fill="#000"/>
<circle cx="76.00" cy="271.80" r="2.00" fill="#000"/>
<polyline points="47.50,183.50 47.50,212.90 51.50,212.90 51.50,220.32 53.30,220.32 53.30,249.73 67.00,249.73 67.00,257.05 68.50,257.05 68.50,264.47 70.50,264.47 70.50,271.80" fill="none" stroke="#000" stroke-width="1.15" stroke-linejoin="miter"/>
<polygon points="50.70,247.89 55.30,247.89 53.00,252.03" fill="#000"/>
<polygon points="64.70,255.21 69.30,255.21 67.00,259.35" fill="#000"/>
<polygon points="66.20,262.63 70.80,262.63 68.50,266.77" fill="#000"/>
<polygon points="68.20,269.96 72.80,269.96 70.50,274.10" fill="#000"/>
<line x1="191.50" y1="192.20" x2="204.00" y2="192.20" stroke="#000" stroke-width="1.25"/>
<rect x="195.31" y="190.01" width="4.37" height="4.37" fill="#000"/>
<line x1="191.50" y1="204.50" x2="204.00" y2="204.50" stroke="#000" stroke-width="1.25"/>
<polygon points="195.09,202.57 199.91,202.57 197.50,206.91" fill="#000"/>
<line x1="191.50" y1="220.00" x2="204.00" y2="220.00" stroke="#000" stroke-width="1.25"/>
<polygon points="195.09,221.93 199.91,221.93 197.50,217.59" fill="#000"/>
<line x1="191.50" y1="241.60" x2="204.00" y2="241.60" stroke="#000" stroke-width="1.25"/>
<circle cx="197.50" cy="241.60" r="2.10" fill="#000"/>
<text x="206.30" y="194.20" font-size="7.5" textLength="45.60" lengthAdjust="spacingAndGlyphs">BM only, N=8</text>
<text x="206.30" y="206.90" font-size="7.5" textLength="42.60" lengthAdjust="spacingAndGlyphs">BM+T, N=12</text>
<text x="206.30" y="222.30" font-size="7.5" textLength="61.20" lengthAdjust="spacingAndGlyphs">BM+T+WT MDSC</text>
<text x="206.30" y="230.90" font-size="7.5" textLength="48.50" lengthAdjust="spacingAndGlyphs">IL-13-tx, N=12</text>
<text x="206.30" y="244.40" font-size="7.5" textLength="73.90" lengthAdjust="spacingAndGlyphs">BM+T+Arg KO MDSC</text>
<text x="206.30" y="253.00" font-size="7.5">N=12</text>
<line x1="325.00" y1="183.00" x2="325.00" y2="277.50" stroke="#000" stroke-width="1.4"/>
<line x1="324.50" y1="277.00" x2="487.00" y2="277.00" stroke="#000" stroke-width="1.4"/>
<line x1="321.70" y1="277.00" x2="325.00" y2="277.00" stroke="#000" stroke-width="1.4"/>
<text x="321.30" y="279.40" font-size="7.6" font-weight="bold" text-anchor="end" textLength="7.44" lengthAdjust="spacingAndGlyphs">13</text>
<line x1="321.70" y1="258.30" x2="325.00" y2="258.30" stroke="#000" stroke-width="1.4"/>
<text x="321.30" y="260.70" font-size="7.6" font-weight="bold" text-anchor="end" textLength="7.44" lengthAdjust="spacingAndGlyphs">15</text>
<line x1="321.70" y1="239.60" x2="325.00" y2="239.60" stroke="#000" stroke-width="1.4"/>
<text x="321.30" y="242.00" font-size="7.6" font-weight="bold" text-anchor="end" textLength="7.44" lengthAdjust="spacingAndGlyphs">17</text>
<line x1="321.70" y1="220.90" x2="325.00" y2="220.90" stroke="#000" stroke-width="1.4"/>
<text x="321.30" y="223.30" font-size="7.6" font-weight="bold" text-anchor="end" textLength="7.44" lengthAdjust="spacingAndGlyphs">19</text>
<line x1="321.70" y1="202.20" x2="325.00" y2="202.20" stroke="#000" stroke-width="1.4"/>
<text x="321.30" y="204.60" font-size="7.6" font-weight="bold" text-anchor="end" textLength="7.44" lengthAdjust="spacingAndGlyphs">21</text>
<line x1="321.70" y1="183.50" x2="325.00" y2="183.50" stroke="#000" stroke-width="1.4"/>
<text x="321.30" y="185.90" font-size="7.6" font-weight="bold" text-anchor="end" textLength="7.44" lengthAdjust="spacingAndGlyphs">23</text>
<line x1="329.50" y1="277.00" x2="329.50" y2="280.00" stroke="#000" stroke-width="1.4"/>
<text x="329.50" y="286.70" font-size="7.6" font-weight="bold" text-anchor="middle" textLength="5.95" lengthAdjust="spacingAndGlyphs">-5</text>
<line x1="352.00" y1="277.00" x2="352.00" y2="280.00" stroke="#000" stroke-width="1.4"/>
<text x="352.00" y="286.70" font-size="7.6" font-weight="bold" text-anchor="middle" textLength="3.72" lengthAdjust="spacingAndGlyphs">5</text>
<line x1="374.50" y1="277.00" x2="374.50" y2="280.00" stroke="#000" stroke-width="1.4"/>
<text x="374.50" y="286.70" font-size="7.6" font-weight="bold" text-anchor="middle" textLength="7.44" lengthAdjust="spacingAndGlyphs">15</text>
<line x1="397.00" y1="277.00" x2="397.00" y2="280.00" stroke="#000" stroke-width="1.4"/>
<text x="397.00" y="286.70" font-size="7.6" font-weight="bold" text-anchor="middle" textLength="7.44" lengthAdjust="spacingAndGlyphs">25</text>
<line x1="419.50" y1="277.00" x2="419.50" y2="280.00" stroke="#000" stroke-width="1.4"/>
<text x="419.50" y="286.70" font-size="7.6" font-weight="bold" text-anchor="middle" textLength="7.44" lengthAdjust="spacingAndGlyphs">35</text>
<line x1="442.00" y1="277.00" x2="442.00" y2="280.00" stroke="#000" stroke-width="1.4"/>
<text x="442.00" y="286.70" font-size="7.6" font-weight="bold" text-anchor="middle" textLength="7.44" lengthAdjust="spacingAndGlyphs">45</text>
<line x1="464.50" y1="277.00" x2="464.50" y2="280.00" stroke="#000" stroke-width="1.4"/>
<text x="464.50" y="286.70" font-size="7.6" font-weight="bold" text-anchor="middle" textLength="7.44" lengthAdjust="spacingAndGlyphs">55</text>
<line x1="487.00" y1="277.00" x2="487.00" y2="280.00" stroke="#000" stroke-width="1.4"/>
<text x="487.00" y="286.70" font-size="7.6" font-weight="bold" text-anchor="middle" textLength="7.44" lengthAdjust="spacingAndGlyphs">65</text>
<text x="367.90" y="297.20" font-size="7.65" font-weight="bold" textLength="75.00" lengthAdjust="spacingAndGlyphs">Days post transplant</text>
<text x="309.80" y="249.20" font-size="7.65" font-weight="bold" textLength="37.30" lengthAdjust="spacingAndGlyphs" transform="rotate(-90 309.80 249.20)">weight (g)</text>
<polyline points="325.00,194.00 340.50,199.00 349.00,207.50 356.00,210.50 363.00,217.00 372.00,208.50 379.00,201.50 388.00,199.00 394.00,202.00 404.00,197.50 410.00,197.50 419.50,198.50 426.00,205.00 435.00,205.00 442.00,200.50 450.50,199.00 460.00,195.00 466.00,196.00 475.50,193.00 482.00,196.00" fill="none" stroke="#000" stroke-width="1.0" stroke-linejoin="miter"/>
<line x1="325.00" y1="190.50" x2="325.00" y2="197.50" stroke="#000" stroke-width="1.0"/>
<line x1="322.90" y1="190.50" x2="327.10" y2="190.50" stroke="#000" stroke-width="1.0"/>
<line x1="322.90" y1="197.50" x2="327.10" y2="197.50" stroke="#000" stroke-width="1.0"/>
<rect x="322.91" y="191.91" width="4.18" height="4.18" fill="#000"/>
<line x1="340.50" y1="195.50" x2="340.50" y2="203.50" stroke="#000" stroke-width="1.0"/>
<line x1="338.40" y1="195.50" x2="342.60" y2="195.50" stroke="#000" stroke-width="1.0"/>
<line x1="338.40" y1="203.50" x2="342.60" y2="203.50" stroke="#000" stroke-width="1.0"/>
<rect x="338.41" y="196.91" width="4.18" height="4.18" fill="#000"/>
<line x1="349.00" y1="204.50" x2="349.00" y2="211.50" stroke="#000" stroke-width="1.0"/>
<line x1="346.90" y1="204.50" x2="351.10" y2="204.50" stroke="#000" stroke-width="1.0"/>
<line x1="346.90" y1="211.50" x2="351.10" y2="211.50" stroke="#000" stroke-width="1.0"/>
<rect x="346.91" y="205.41" width="4.18" height="4.18" fill="#000"/>
<line x1="356.00" y1="207.50" x2="356.00" y2="214.50" stroke="#000" stroke-width="1.0"/>
<line x1="353.90" y1="207.50" x2="358.10" y2="207.50" stroke="#000" stroke-width="1.0"/>
<line x1="353.90" y1="214.50" x2="358.10" y2="214.50" stroke="#000" stroke-width="1.0"/>
<rect x="353.91" y="208.41" width="4.18" height="4.18" fill="#000"/>
<line x1="363.00" y1="213.50" x2="363.00" y2="220.50" stroke="#000" stroke-width="1.0"/>
<line x1="360.90" y1="213.50" x2="365.10" y2="213.50" stroke="#000" stroke-width="1.0"/>
<line x1="360.90" y1="220.50" x2="365.10" y2="220.50" stroke="#000" stroke-width="1.0"/>
<rect x="360.91" y="214.91" width="4.18" height="4.18" fill="#000"/>
<line x1="372.00" y1="204.50" x2="372.00" y2="212.50" stroke="#000" stroke-width="1.0"/>
<line x1="369.90" y1="204.50" x2="374.10" y2="204.50" stroke="#000" stroke-width="1.0"/>
<line x1="369.90" y1="212.50" x2="374.10" y2="212.50" stroke="#000" stroke-width="1.0"/>
<rect x="369.91" y="206.41" width="4.18" height="4.18" fill="#000"/>
<line x1="379.00" y1="197.50" x2="379.00" y2="205.50" stroke="#000" stroke-width="1.0"/>
<line x1="376.90" y1="197.50" x2="381.10" y2="197.50" stroke="#000" stroke-width="1.0"/>
<line x1="376.90" y1="205.50" x2="381.10" y2="205.50" stroke="#000" stroke-width="1.0"/>
<rect x="376.91" y="199.41" width="4.18" height="4.18" fill="#000"/>
<line x1="388.00" y1="195.50" x2="388.00" y2="203.50" stroke="#000" stroke-width="1.0"/>
<line x1="385.90" y1="195.50" x2="390.10" y2="195.50" stroke="#000" stroke-width="1.0"/>
<line x1="385.90" y1="203.50" x2="390.10" y2="203.50" stroke="#000" stroke-width="1.0"/>
<rect x="385.91" y="196.91" width="4.18" height="4.18" fill="#000"/>
<line x1="394.00" y1="198.50" x2="394.00" y2="205.50" stroke="#000" stroke-width="1.0"/>
<line x1="391.90" y1="198.50" x2="396.10" y2="198.50" stroke="#000" stroke-width="1.0"/>
<line x1="391.90" y1="205.50" x2="396.10" y2="205.50" stroke="#000" stroke-width="1.0"/>
<rect x="391.91" y="199.91" width="4.18" height="4.18" fill="#000"/>
<line x1="404.00" y1="193.50" x2="404.00" y2="201.50" stroke="#000" stroke-width="1.0"/>
<line x1="401.90" y1="193.50" x2="406.10" y2="193.50" stroke="#000" stroke-width="1.0"/>
<line x1="401.90" y1="201.50" x2="406.10" y2="201.50" stroke="#000" stroke-width="1.0"/>
<rect x="401.91" y="195.41" width="4.18" height="4.18" fill="#000"/>
<line x1="410.00" y1="193.50" x2="410.00" y2="201.50" stroke="#000" stroke-width="1.0"/>
<line x1="407.90" y1="193.50" x2="412.10" y2="193.50" stroke="#000" stroke-width="1.0"/>
<line x1="407.90" y1="201.50" x2="412.10" y2="201.50" stroke="#000" stroke-width="1.0"/>
<rect x="407.91" y="195.41" width="4.18" height="4.18" fill="#000"/>
<line x1="419.50" y1="194.50" x2="419.50" y2="203.50" stroke="#000" stroke-width="1.0"/>
<line x1="417.40" y1="194.50" x2="421.60" y2="194.50" stroke="#000" stroke-width="1.0"/>
<line x1="417.40" y1="203.50" x2="421.60" y2="203.50" stroke="#000" stroke-width="1.0"/>
<rect x="417.41" y="196.41" width="4.18" height="4.18" fill="#000"/>
<line x1="426.00" y1="201.50" x2="426.00" y2="209.50" stroke="#000" stroke-width="1.0"/>
<line x1="423.90" y1="201.50" x2="428.10" y2="201.50" stroke="#000" stroke-width="1.0"/>
<line x1="423.90" y1="209.50" x2="428.10" y2="209.50" stroke="#000" stroke-width="1.0"/>
<rect x="423.91" y="202.91" width="4.18" height="4.18" fill="#000"/>
<line x1="435.00" y1="201.50" x2="435.00" y2="209.50" stroke="#000" stroke-width="1.0"/>
<line x1="432.90" y1="201.50" x2="437.10" y2="201.50" stroke="#000" stroke-width="1.0"/>
<line x1="432.90" y1="209.50" x2="437.10" y2="209.50" stroke="#000" stroke-width="1.0"/>
<rect x="432.91" y="202.91" width="4.18" height="4.18" fill="#000"/>
<line x1="442.00" y1="196.50" x2="442.00" y2="205.50" stroke="#000" stroke-width="1.0"/>
<line x1="439.90" y1="196.50" x2="444.10" y2="196.50" stroke="#000" stroke-width="1.0"/>
<line x1="439.90" y1="205.50" x2="444.10" y2="205.50" stroke="#000" stroke-width="1.0"/>
<rect x="439.91" y="198.41" width="4.18" height="4.18" fill="#000"/>
<line x1="450.50" y1="194.50" x2="450.50" y2="203.50" stroke="#000" stroke-width="1.0"/>
<line x1="448.40" y1="194.50" x2="452.60" y2="194.50" stroke="#000" stroke-width="1.0"/>
<line x1="448.40" y1="203.50" x2="452.60" y2="203.50" stroke="#000" stroke-width="1.0"/>
<rect x="448.41" y="196.91" width="4.18" height="4.18" fill="#000"/>
<line x1="460.00" y1="190.50" x2="460.00" y2="200.50" stroke="#000" stroke-width="1.0"/>
<line x1="457.90" y1="190.50" x2="462.10" y2="190.50" stroke="#000" stroke-width="1.0"/>
<line x1="457.90" y1="200.50" x2="462.10" y2="200.50" stroke="#000" stroke-width="1.0"/>
<rect x="457.91" y="192.91" width="4.18" height="4.18" fill="#000"/>
<line x1="466.00" y1="190.50" x2="466.00" y2="201.50" stroke="#000" stroke-width="1.0"/>
<line x1="463.90" y1="190.50" x2="468.10" y2="190.50" stroke="#000" stroke-width="1.0"/>
<line x1="463.90" y1="201.50" x2="468.10" y2="201.50" stroke="#000" stroke-width="1.0"/>
<rect x="463.91" y="193.91" width="4.18" height="4.18" fill="#000"/>
<line x1="475.50" y1="187.50" x2="475.50" y2="198.50" stroke="#000" stroke-width="1.0"/>
<line x1="473.40" y1="187.50" x2="477.60" y2="187.50" stroke="#000" stroke-width="1.0"/>
<line x1="473.40" y1="198.50" x2="477.60" y2="198.50" stroke="#000" stroke-width="1.0"/>
<rect x="473.41" y="190.91" width="4.18" height="4.18" fill="#000"/>
<line x1="482.00" y1="189.50" x2="482.00" y2="202.50" stroke="#000" stroke-width="1.0"/>
<line x1="479.90" y1="189.50" x2="484.10" y2="189.50" stroke="#000" stroke-width="1.0"/>
<line x1="479.90" y1="202.50" x2="484.10" y2="202.50" stroke="#000" stroke-width="1.0"/>
<rect x="479.91" y="193.91" width="4.18" height="4.18" fill="#000"/>
<polyline points="325.00,196.00 340.50,202.00 349.00,210.00 356.00,246.00 362.50,237.00 372.00,221.00 378.00,223.00 387.00,227.00 394.50,233.00 403.50,238.00 410.00,243.00 419.50,246.50 426.00,248.50 435.00,254.00 441.50,257.50 450.50,259.50 459.50,266.00 466.50,263.00 475.00,260.00 482.00,260.00" fill="none" stroke="#000" stroke-width="1.0" stroke-linejoin="miter"/>
<line x1="325.00" y1="192.50" x2="325.00" y2="199.50" stroke="#000" stroke-width="1.0"/>
<line x1="322.90" y1="192.50" x2="327.10" y2="192.50" stroke="#000" stroke-width="1.0"/>
<line x1="322.90" y1="199.50" x2="327.10" y2="199.50" stroke="#000" stroke-width="1.0"/>
<polygon points="322.24,198.21 327.76,198.21 325.00,193.24" fill="#000"/>
<line x1="340.50" y1="198.50" x2="340.50" y2="205.50" stroke="#000" stroke-width="1.0"/>
<line x1="338.40" y1="198.50" x2="342.60" y2="198.50" stroke="#000" stroke-width="1.0"/>
<line x1="338.40" y1="205.50" x2="342.60" y2="205.50" stroke="#000" stroke-width="1.0"/>
<polygon points="337.74,204.21 343.26,204.21 340.50,199.24" fill="#000"/>
<line x1="349.00" y1="206.50" x2="349.00" y2="213.50" stroke="#000" stroke-width="1.0"/>
<line x1="346.90" y1="206.50" x2="351.10" y2="206.50" stroke="#000" stroke-width="1.0"/>
<line x1="346.90" y1="213.50" x2="351.10" y2="213.50" stroke="#000" stroke-width="1.0"/>
<polygon points="346.24,212.21 351.76,212.21 349.00,207.24" fill="#000"/>
<line x1="356.00" y1="242.50" x2="356.00" y2="250.50" stroke="#000" stroke-width="1.0"/>
<line x1="353.90" y1="242.50" x2="358.10" y2="242.50" stroke="#000" stroke-width="1.0"/>
<line x1="353.90" y1="250.50" x2="358.10" y2="250.50" stroke="#000" stroke-width="1.0"/>
<polygon points="353.24,248.21 358.76,248.21 356.00,243.24" fill="#000"/>
<line x1="362.50" y1="231.50" x2="362.50" y2="243.50" stroke="#000" stroke-width="1.0"/>
<line x1="360.40" y1="231.50" x2="364.60" y2="231.50" stroke="#000" stroke-width="1.0"/>
<line x1="360.40" y1="243.50" x2="364.60" y2="243.50" stroke="#000" stroke-width="1.0"/>
<polygon points="359.74,239.21 365.26,239.21 362.50,234.24" fill="#000"/>
<line x1="372.00" y1="217.50" x2="372.00" y2="224.50" stroke="#000" stroke-width="1.0"/>
<line x1="369.90" y1="217.50" x2="374.10" y2="217.50" stroke="#000" stroke-width="1.0"/>
<line x1="369.90" y1="224.50" x2="374.10" y2="224.50" stroke="#000" stroke-width="1.0"/>
<polygon points="369.24,223.21 374.76,223.21 372.00,218.24" fill="#000"/>
<line x1="378.00" y1="217.50" x2="378.00" y2="228.50" stroke="#000" stroke-width="1.0"/>
<line x1="375.90" y1="217.50" x2="380.10" y2="217.50" stroke="#000" stroke-width="1.0"/>
<line x1="375.90" y1="228.50" x2="380.10" y2="228.50" stroke="#000" stroke-width="1.0"/>
<polygon points="375.24,225.21 380.76,225.21 378.00,220.24" fill="#000"/>
<line x1="387.00" y1="223.50" x2="387.00" y2="231.50" stroke="#000" stroke-width="1.0"/>
<line x1="384.90" y1="223.50" x2="389.10" y2="223.50" stroke="#000" stroke-width="1.0"/>
<line x1="384.90" y1="231.50" x2="389.10" y2="231.50" stroke="#000" stroke-width="1.0"/>
<polygon points="384.24,229.21 389.76,229.21 387.00,224.24" fill="#000"/>
<line x1="394.50" y1="229.50" x2="394.50" y2="236.50" stroke="#000" stroke-width="1.0"/>
<line x1="392.40" y1="229.50" x2="396.60" y2="229.50" stroke="#000" stroke-width="1.0"/>
<line x1="392.40" y1="236.50" x2="396.60" y2="236.50" stroke="#000" stroke-width="1.0"/>
<polygon points="391.74,235.21 397.26,235.21 394.50,230.24" fill="#000"/>
<line x1="403.50" y1="234.50" x2="403.50" y2="241.50" stroke="#000" stroke-width="1.0"/>
<line x1="401.40" y1="234.50" x2="405.60" y2="234.50" stroke="#000" stroke-width="1.0"/>
<line x1="401.40" y1="241.50" x2="405.60" y2="241.50" stroke="#000" stroke-width="1.0"/>
<polygon points="400.74,240.21 406.26,240.21 403.50,235.24" fill="#000"/>
<line x1="410.00" y1="239.50" x2="410.00" y2="246.50" stroke="#000" stroke-width="1.0"/>
<line x1="407.90" y1="239.50" x2="412.10" y2="239.50" stroke="#000" stroke-width="1.0"/>
<line x1="407.90" y1="246.50" x2="412.10" y2="246.50" stroke="#000" stroke-width="1.0"/>
<polygon points="407.24,245.21 412.76,245.21 410.00,240.24" fill="#000"/>
<line x1="419.50" y1="243.50" x2="419.50" y2="250.50" stroke="#000" stroke-width="1.0"/>
<line x1="417.40" y1="243.50" x2="421.60" y2="243.50" stroke="#000" stroke-width="1.0"/>
<line x1="417.40" y1="250.50" x2="421.60" y2="250.50" stroke="#000" stroke-width="1.0"/>
<polygon points="416.74,248.71 422.26,248.71 419.50,243.74" fill="#000"/>
<line x1="426.00" y1="245.50" x2="426.00" y2="252.50" stroke="#000" stroke-width="1.0"/>
<line x1="423.90" y1="245.50" x2="428.10" y2="245.50" stroke="#000" stroke-width="1.0"/>
<line x1="423.90" y1="252.50" x2="428.10" y2="252.50" stroke="#000" stroke-width="1.0"/>
<polygon points="423.24,250.71 428.76,250.71 426.00,245.74" fill="#000"/>
<line x1="435.00" y1="250.50" x2="435.00" y2="257.50" stroke="#000" stroke-width="1.0"/>
<line x1="432.90" y1="250.50" x2="437.10" y2="250.50" stroke="#000" stroke-width="1.0"/>
<line x1="432.90" y1="257.50" x2="437.10" y2="257.50" stroke="#000" stroke-width="1.0"/>
<polygon points="432.24,256.21 437.76,256.21 435.00,251.24" fill="#000"/>
<line x1="441.50" y1="254.50" x2="441.50" y2="261.50" stroke="#000" stroke-width="1.0"/>
<line x1="439.40" y1="254.50" x2="443.60" y2="254.50" stroke="#000" stroke-width="1.0"/>
<line x1="439.40" y1="261.50" x2="443.60" y2="261.50" stroke="#000" stroke-width="1.0"/>
<polygon points="438.74,259.71 444.26,259.71 441.50,254.74" fill="#000"/>
<line x1="450.50" y1="256.50" x2="450.50" y2="263.50" stroke="#000" stroke-width="1.0"/>
<line x1="448.40" y1="256.50" x2="452.60" y2="256.50" stroke="#000" stroke-width="1.0"/>
<line x1="448.40" y1="263.50" x2="452.60" y2="263.50" stroke="#000" stroke-width="1.0"/>
<polygon points="447.74,261.71 453.26,261.71 450.50,256.74" fill="#000"/>
<line x1="459.50" y1="262.50" x2="459.50" y2="269.50" stroke="#000" stroke-width="1.0"/>
<line x1="457.40" y1="262.50" x2="461.60" y2="262.50" stroke="#000" stroke-width="1.0"/>
<line x1="457.40" y1="269.50" x2="461.60" y2="269.50" stroke="#000" stroke-width="1.0"/>
<polygon points="456.74,268.21 462.26,268.21 459.50,263.24" fill="#000"/>
<line x1="466.50" y1="259.50" x2="466.50" y2="266.50" stroke="#000" stroke-width="1.0"/>
<line x1="464.40" y1="259.50" x2="468.60" y2="259.50" stroke="#000" stroke-width="1.0"/>
<line x1="464.40" y1="266.50" x2="468.60" y2="266.50" stroke="#000" stroke-width="1.0"/>
<polygon points="463.74,265.21 469.26,265.21 466.50,260.24" fill="#000"/>
<line x1="475.00" y1="256.50" x2="475.00" y2="263.50" stroke="#000" stroke-width="1.0"/>
<line x1="472.90" y1="256.50" x2="477.10" y2="256.50" stroke="#000" stroke-width="1.0"/>
<line x1="472.90" y1="263.50" x2="477.10" y2="263.50" stroke="#000" stroke-width="1.0"/>
<polygon points="472.24,262.21 477.76,262.21 475.00,257.24" fill="#000"/>
<line x1="482.00" y1="256.50" x2="482.00" y2="263.50" stroke="#000" stroke-width="1.0"/>
<line x1="479.90" y1="256.50" x2="484.10" y2="256.50" stroke="#000" stroke-width="1.0"/>
<line x1="479.90" y1="263.50" x2="484.10" y2="263.50" stroke="#000" stroke-width="1.0"/>
<polygon points="479.24,262.21 484.76,262.21 482.00,257.24" fill="#000"/>
<polyline points="325.00,198.00 340.50,204.50 349.00,212.00 356.00,250.00 362.50,237.00 372.00,236.00" fill="none" stroke="#000" stroke-width="1.0" stroke-linejoin="miter"/>
<line x1="325.00" y1="194.50" x2="325.00" y2="201.50" stroke="#000" stroke-width="1.0"/>
<line x1="322.90" y1="194.50" x2="327.10" y2="194.50" stroke="#000" stroke-width="1.0"/>
<line x1="322.90" y1="201.50" x2="327.10" y2="201.50" stroke="#000" stroke-width="1.0"/>
<polygon points="322.93,196.34 327.07,196.34 325.00,200.07" fill="#000"/>
<line x1="340.50" y1="201.50" x2="340.50" y2="208.50" stroke="#000" stroke-width="1.0"/>
<line x1="338.40" y1="201.50" x2="342.60" y2="201.50" stroke="#000" stroke-width="1.0"/>
<line x1="338.40" y1="208.50" x2="342.60" y2="208.50" stroke="#000" stroke-width="1.0"/>
<polygon points="338.43,202.84 342.57,202.84 340.50,206.57" fill="#000"/>
<line x1="349.00" y1="208.50" x2="349.00" y2="215.50" stroke="#000" stroke-width="1.0"/>
<line x1="346.90" y1="208.50" x2="351.10" y2="208.50" stroke="#000" stroke-width="1.0"/>
<line x1="346.90" y1="215.50" x2="351.10" y2="215.50" stroke="#000" stroke-width="1.0"/>
<polygon points="346.93,210.34 351.07,210.34 349.00,214.07" fill="#000"/>
<line x1="356.00" y1="246.50" x2="356.00" y2="253.50" stroke="#000" stroke-width="1.0"/>
<line x1="353.90" y1="246.50" x2="358.10" y2="246.50" stroke="#000" stroke-width="1.0"/>
<line x1="353.90" y1="253.50" x2="358.10" y2="253.50" stroke="#000" stroke-width="1.0"/>
<polygon points="353.93,248.34 358.07,248.34 356.00,252.07" fill="#000"/>
<line x1="362.50" y1="233.50" x2="362.50" y2="240.50" stroke="#000" stroke-width="1.0"/>
<line x1="360.40" y1="233.50" x2="364.60" y2="233.50" stroke="#000" stroke-width="1.0"/>
<line x1="360.40" y1="240.50" x2="364.60" y2="240.50" stroke="#000" stroke-width="1.0"/>
<polygon points="360.43,235.34 364.57,235.34 362.50,239.07" fill="#000"/>
<line x1="372.00" y1="232.50" x2="372.00" y2="239.50" stroke="#000" stroke-width="1.0"/>
<line x1="369.90" y1="232.50" x2="374.10" y2="232.50" stroke="#000" stroke-width="1.0"/>
<line x1="369.90" y1="239.50" x2="374.10" y2="239.50" stroke="#000" stroke-width="1.0"/>
<polygon points="369.93,234.34 374.07,234.34 372.00,238.07" fill="#000"/>
<polyline points="325.00,200.00 340.50,206.50 349.00,214.00 356.00,249.00 362.50,238.00 372.00,247.00 378.50,258.00 388.00,269.50" fill="none" stroke="#000" stroke-width="1.0" stroke-linejoin="miter"/>
<line x1="325.00" y1="196.50" x2="325.00" y2="203.50" stroke="#000" stroke-width="1.0"/>
<line x1="322.90" y1="196.50" x2="327.10" y2="196.50" stroke="#000" stroke-width="1.0"/>
<line x1="322.90" y1="203.50" x2="327.10" y2="203.50" stroke="#000" stroke-width="1.0"/>
<circle cx="325.00" cy="200.00" r="1.80" fill="#000"/>
<line x1="340.50" y1="203.50" x2="340.50" y2="210.50" stroke="#000" stroke-width="1.0"/>
<line x1="338.40" y1="203.50" x2="342.60" y2="203.50" stroke="#000" stroke-width="1.0"/>
<line x1="338.40" y1="210.50" x2="342.60" y2="210.50" stroke="#000" stroke-width="1.0"/>
<circle cx="340.50" cy="206.50" r="1.80" fill="#000"/>
<line x1="349.00" y1="210.50" x2="349.00" y2="217.50" stroke="#000" stroke-width="1.0"/>
<line x1="346.90" y1="210.50" x2="351.10" y2="210.50" stroke="#000" stroke-width="1.0"/>
<line x1="346.90" y1="217.50" x2="351.10" y2="217.50" stroke="#000" stroke-width="1.0"/>
<circle cx="349.00" cy="214.00" r="1.80" fill="#000"/>
<line x1="356.00" y1="245.50" x2="356.00" y2="252.50" stroke="#000" stroke-width="1.0"/>
<line x1="353.90" y1="245.50" x2="358.10" y2="245.50" stroke="#000" stroke-width="1.0"/>
<line x1="353.90" y1="252.50" x2="358.10" y2="252.50" stroke="#000" stroke-width="1.0"/>
<circle cx="356.00" cy="249.00" r="1.80" fill="#000"/>
<line x1="362.50" y1="234.50" x2="362.50" y2="241.50" stroke="#000" stroke-width="1.0"/>
<line x1="360.40" y1="234.50" x2="364.60" y2="234.50" stroke="#000" stroke-width="1.0"/>
<line x1="360.40" y1="241.50" x2="364.60" y2="241.50" stroke="#000" stroke-width="1.0"/>
<circle cx="362.50" cy="238.00" r="1.80" fill="#000"/>
<line x1="372.00" y1="243.50" x2="372.00" y2="250.50" stroke="#000" stroke-width="1.0"/>
<line x1="369.90" y1="243.50" x2="374.10" y2="243.50" stroke="#000" stroke-width="1.0"/>
<line x1="369.90" y1="250.50" x2="374.10" y2="250.50" stroke="#000" stroke-width="1.0"/>
<circle cx="372.00" cy="247.00" r="1.80" fill="#000"/>
<line x1="378.50" y1="254.50" x2="378.50" y2="262.50" stroke="#000" stroke-width="1.0"/>
<line x1="376.40" y1="254.50" x2="380.60" y2="254.50" stroke="#000" stroke-width="1.0"/>
<line x1="376.40" y1="262.50" x2="380.60" y2="262.50" stroke="#000" stroke-width="1.0"/>
<circle cx="378.50" cy="258.00" r="1.80" fill="#000"/>
<circle cx="388.00" cy="269.50" r="1.80" fill="#000"/>
</svg>
</body></html>
